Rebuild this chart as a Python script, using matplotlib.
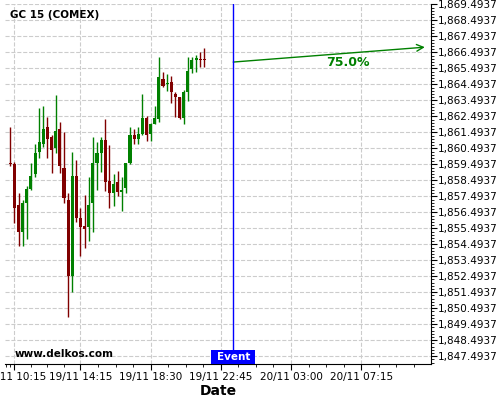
import matplotlib
matplotlib.use('Agg')
import matplotlib.pyplot as plt
import matplotlib.transforms as mtransforms
from matplotlib.patches import Rectangle
import numpy as np

# velas de 15 minutos desde 19/11 10:00 (indice 0)
opens = [1859.58, 1859.51, 1856.95, 1855.29, 1857.10, 1857.95, 1858.89, 1860.29, 1860.76, 1861.81,
         1861.18, 1860.54, 1861.68, 1859.26, 1857.26, 1852.54, 1858.76, 1856.12, 1855.64, 1855.60,
         1857.10, 1859.60, 1860.22, 1861.01, 1858.45, 1857.72, 1858.39, 1857.79, 1857.99, 1859.60,
         1861.33, 1861.10, 1861.41, 1862.41, 1861.41, 1862.01, 1862.35, 1864.83, 1864.52, 1864.64,
         1863.89, 1863.70, 1862.41, 1864.04, 1865.45, 1866.01, 1866.04, 1866.04]
highs = [1861.85, 1859.66, 1857.68, 1857.26, 1858.16, 1859.56, 1860.76, 1862.99, 1863.16, 1862.47,
         1861.33, 1863.83, 1862.16, 1861.54, 1857.72, 1860.24, 1859.76, 1856.74, 1857.58, 1858.72,
         1861.18, 1860.87, 1861.22, 1862.31, 1860.68, 1858.89, 1859.08, 1858.68, 1859.56, 1861.81,
         1861.70, 1861.81, 1863.87, 1862.51, 1862.10, 1863.14, 1866.18, 1865.29, 1865.12, 1865.01,
         1863.99, 1863.70, 1864.14, 1866.18, 1866.18, 1866.33, 1866.49, 1866.74]
lows = [1859.39, 1855.85, 1854.41, 1854.41, 1854.81, 1857.89, 1858.72, 1859.87, 1860.60, 1859.87,
        1858.93, 1860.18, 1858.93, 1857.10, 1849.93, 1851.49, 1855.91, 1853.79, 1854.24, 1854.72,
        1855.29, 1857.89, 1859.04, 1857.85, 1856.74, 1856.91, 1857.54, 1856.60, 1857.68, 1859.51,
        1860.74, 1860.74, 1861.33, 1860.97, 1860.97, 1861.99, 1862.16, 1864.31, 1864.10, 1863.35,
        1862.47, 1862.33, 1861.99, 1863.47, 1865.18, 1865.29, 1865.60, 1865.60]
closes = [1859.54, 1856.79, 1855.29, 1857.10, 1857.95, 1858.76, 1860.18, 1860.87, 1861.70, 1861.08,
          1860.41, 1861.58, 1859.41, 1857.41, 1852.54, 1858.76, 1856.16, 1855.60, 1855.45, 1856.95,
          1859.56, 1860.18, 1861.01, 1858.41, 1857.72, 1858.26, 1857.79, 1857.89, 1859.56, 1861.33,
          1861.06, 1861.39, 1862.37, 1861.35, 1862.01, 1862.39, 1864.95, 1864.39, 1864.56, 1864.04,
          1863.72, 1862.39, 1864.01, 1865.33, 1866.01, 1866.12, 1866.00, 1866.00]

tick_idx = [1, 17, 34, 51, 68, 85]
tick_labels = ['19/11 10:15', '19/11 14:15', '19/11 18:30', '19/11 22:45', '20/11 03:00', '20/11 07:15']

event_idx = 54
arrow_start = (54, 1865.89)
arrow_end = (100.4, 1866.82)
arrow_text = '75.0%'

base = 1847.4937
yticks = base + np.arange(0, 23)

fig = plt.figure(figsize=(5, 4), dpi=100)
ax = fig.add_axes([0.01, 0.09, 0.852, 0.90])

x = np.arange(len(opens))
o = np.array(opens); h = np.array(highs); l = np.array(lows); c = np.array(closes)
col = np.where(c >= o, '#008000', '#800000')

ax.vlines(x, l, h, colors=col, linewidth=1, zorder=3)
body_lo = np.minimum(o, c)
body_h = np.maximum(np.abs(c - o), 0.06)
ax.bar(x, body_h, bottom=body_lo, width=0.75, color=col, linewidth=0, zorder=4)

# evento
ax.axvline(event_idx, color='#0000ff', linewidth=1, zorder=5)
trans = mtransforms.blended_transform_factory(ax.transData, ax.transAxes)
ax.add_patch(Rectangle((event_idx - 5.3, 0), 10.6, 0.039, transform=trans,
                       facecolor='#0000ff', edgecolor='none', zorder=6, clip_on=False))
ax.text(event_idx, 0.0195, 'Event', transform=trans, color='white', fontsize=7.5,
        fontweight='bold', ha='center', va='center', zorder=7)

# flecha de prediccion
ax.annotate('', xy=arrow_end, xytext=arrow_start,
            arrowprops=dict(arrowstyle='->', color='#008000', lw=1, mutation_scale=12,
                            shrinkA=0, shrinkB=0))
ax.text(81.8, 1865.87, arrow_text, color='#008000', fontsize=9, fontweight='bold',
        ha='center', va='center')

ax.yaxis.tick_right()
ax.set_yticks(yticks)
ax.set_yticklabels([f'{v:,.4f}' for v in yticks], fontsize=7.5)
ax.set_yticks(base + np.arange(-0.4, 22.2, 0.2), minor=True)
ax.tick_params(axis='y', which='major', length=4, pad=1)
ax.tick_params(axis='y', which='minor', length=2)

ax.set_xticks(tick_idx)
ax.set_xticklabels(tick_labels, fontsize=7.5)
minor_x = []
for a, b in zip([-3] + tick_idx, tick_idx + [102]):
    minor_x += list(np.linspace(a, b, 5)[1:-1])
ax.set_xticks(minor_x, minor=True)
ax.tick_params(axis='x', which='major', length=4, pad=2)
ax.tick_params(axis='x', which='minor', length=2)
ax.set_xlabel('Date', fontsize=10, fontweight='bold', labelpad=1)

ax.set_xlim(-1.28, 101.9)
ax.set_ylim(1847.01, 1869.52)

ax.grid(True, which='major', linestyle='--', color='#cccccc', linewidth=0.8)
ax.set_axisbelow(True)
for s in ['left', 'top']:
    ax.spines[s].set_visible(False)

ax.text(0.012, 0.97, 'GC 15 (COMEX)', transform=ax.transAxes, fontsize=7.5,
        fontweight='bold', va='center')
ax.text(0.023, 0.028, 'www.delkos.com', transform=ax.transAxes, fontsize=7.5,
        fontweight='bold', va='center')

fig.savefig('out.png', dpi=100)
